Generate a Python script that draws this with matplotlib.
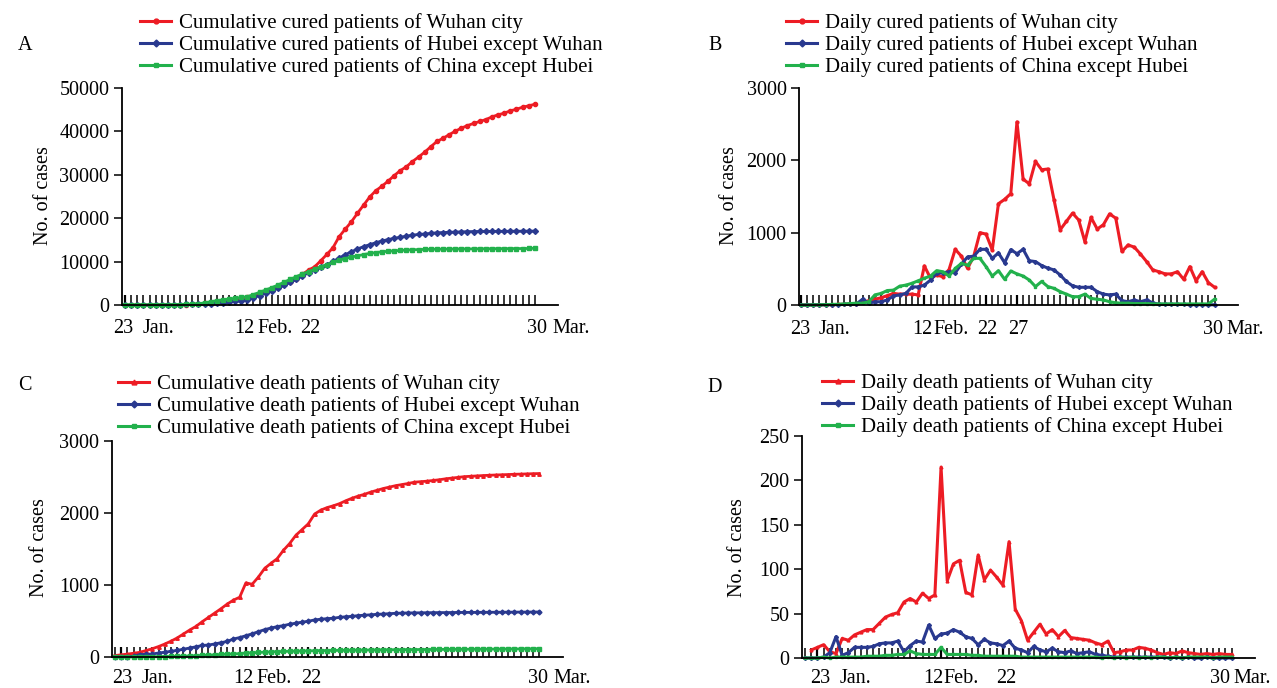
import numpy as np
import matplotlib
matplotlib.use("Agg")
import matplotlib.pyplot as plt
from matplotlib.lines import Line2D

plt.rcParams['font.family'] = ['Liberation Serif', 'DejaVu Serif']

W, H = 1277, 688
RED = '#ed1c24'
BLUE = '#29398f'
GREEN = '#22b14c'

# ---------------- data (day 0 = 23 Jan 2020) ----------------
# Panel A: cumulative cured, days 0..67
cum_cured_wuhan = [0, 1, 3, 5, 10, 15, 23, 33, 48, 68,
                   108, 168, 248, 348, 478, 638, 788, 938, 1088, 1228,
                   1768, 2138, 2553, 2943, 3433, 4203, 4878, 5383, 6058, 7058,
                   8038, 8798, 10198, 11658, 13198, 15728, 17468, 19143, 21128, 22998,
                   24878, 26333, 27373, 28528, 29798, 30973, 31848, 33058, 34108, 35218,
                   36478, 37678, 38418, 39248, 40048, 40753, 41353, 41838, 42298, 42728,
                   43350, 43830, 44200, 44750, 45100, 45580, 45900, 46250]
cum_cured_hubei = [0, 0, 0, 5, 10, 15, 20, 30, 40, 55,
                   130, 160, 200, 250, 320, 440, 560, 700, 850, 1000,
                   1150, 1650, 2180, 2720, 3270, 3840, 4500, 5200, 5900, 6680,
                   7450, 8050, 8650, 9250, 10050, 10800, 11600, 12250, 12900, 13450,
                   13900, 14350, 14750, 15080, 15350, 15600, 15850, 16100, 16250, 16370,
                   16500, 16640, 16700, 16750, 16810, 16850, 16900, 16930, 16940, 16950,
                   16960, 16970, 16980, 16990, 17000, 17010, 17020, 17030]
cum_cured_china = [0, 0, 5, 10, 15, 25, 35, 50, 70, 95,
                   130, 180, 280, 500, 750, 1000, 1180, 1370, 1560, 1740,
                   1920, 2400, 2930, 3460, 4000, 4600, 5250, 5900, 6530, 7150,
                   7680, 8250, 8800, 9300, 9850, 10300, 10700, 11050, 11320, 11620,
                   11880, 12080, 12250, 12380, 12480, 12570, 12660, 12720, 12770, 12810,
                   12840, 12860, 12875, 12890, 12900, 12910, 12920, 12930, 12940, 12950,
                   12960, 12970, 12980, 12990, 13000, 13010, 13020, 13080]

# Panel B: daily cured, days 0..67
day_cured_wuhan = [0, 1, 2, 2, 5, 5, 8, 10, 15, 20,
                   40, 60, 80, 100, 130, 160, 150, 150, 150, 140,
                   540, 370, 415, 390, 490, 770, 675, 505, 675, 1000,
                   980, 760, 1400, 1460, 1540, 2530, 1740, 1675, 1985, 1870,
                   1880, 1455, 1040, 1155, 1270, 1175, 875, 1210, 1050, 1110,
                   1260, 1200, 740, 830, 800, 705, 600, 485, 460, 430,
                   430, 460, 355, 530, 335, 460, 310, 245]
day_cured_hubei = [0, 0, 2, 2, 3, 5, 5, 8, 10, 15,
                   80, 25, 45, 45, 70, 125, 140, 160, 250, 250,
                   275, 345, 440, 445, 460, 445, 565, 665, 675, 770,
                   770, 645, 720, 585, 765, 710, 770, 612, 600, 545,
                   510, 485, 415, 325, 265, 245, 245, 245, 185, 150,
                   140, 150, 60, 45, 70, 45, 70, 30, 10, 10,
                   10, 8, 8, 5, 5, 5, 3, 3]
day_cured_china = [0, 0, 2, 3, 5, 8, 10, 15, 20, 25,
                   25, 45, 140, 160, 200, 205, 260, 275, 300, 335,
                   370, 400, 475, 460, 400, 505, 575, 550, 645, 645,
                   530, 400, 475, 355, 470, 430, 400, 345, 255, 325,
                   255, 230, 185, 150, 115, 115, 150, 90, 80, 70,
                   45, 30, 25, 25, 20, 20, 20, 15, 15, 15,
                   15, 15, 15, 15, 15, 15, 15, 80]

# Panel C: cumulative deaths, days -1..67
cum_death_wuhan = [20,
                   30, 40, 52, 65, 90, 115, 145, 180, 220, 265,
                   320, 375, 425, 490, 550, 610, 670, 735, 790, 830,
                   1030, 1010, 1110, 1230, 1300, 1365, 1480, 1575, 1690, 1770,
                   1850, 1985, 2040, 2075, 2100, 2130, 2170, 2205, 2235, 2260,
                   2290, 2315, 2340, 2360, 2380, 2395, 2410, 2428, 2435, 2442,
                   2452, 2462, 2475, 2485, 2495, 2505, 2510, 2515, 2520, 2524,
                   2528, 2531, 2534, 2538, 2540, 2543, 2546, 2548]
cum_death_hubei = [2,
                   3, 4, 10, 34, 37, 43, 55, 67, 79, 92,
                   108, 125, 142, 160, 167, 181, 199, 216, 250, 270,
                   296, 322, 352, 380, 402, 422, 436, 455, 470, 484,
                   497, 515, 525, 533, 539, 551, 559, 565, 575, 581,
                   586, 593, 597, 602, 607, 610, 612, 613, 614, 615,
                   616, 617, 617, 618, 619, 619, 620, 620, 621, 621,
                   622, 622, 623, 623, 624, 624, 625, 625]
cum_death_china = [0,
                   0, 1, 1, 2, 3, 4, 5, 6, 8, 10,
                   12, 15, 18, 22, 26, 30, 35, 39, 43, 47,
                   55, 59, 63, 67, 71, 74, 77, 79, 81, 83,
                   85, 87, 89, 90, 91, 92, 93, 94, 95, 96,
                   97, 98, 99, 100, 101, 102, 103, 103, 104, 104,
                   105, 105, 106, 106, 107, 107, 108, 108, 109, 109,
                   110, 110, 111, 112, 112, 113, 114, 115]

# Panel D: daily deaths; Wuhan days -1..67, others days -2..67
day_death_wuhan = [9,
                   12, 15, 7, 5, 22, 20, 26, 29, 32, 32,
                   39, 46, 49, 51, 63, 67, 63, 73, 67, 71,
                   215, 87, 106, 110, 74, 71, 116, 88, 99, 91,
                   82, 131, 55, 42, 20, 29, 38, 27, 32, 24,
                   31, 23, 22, 21, 20, 17, 15, 19, 6, 7,
                   9, 9, 12, 11, 9, 6, 4, 6, 5, 8,
                   6, 5, 4, 5, 4, 5, 4, 4]
day_death_hubei = [0, 0,
                   0, 1, 6, 24, 3, 6, 12, 12, 12, 13,
                   16, 17, 17, 19, 7, 14, 19, 18, 37, 22,
                   27, 28, 32, 29, 24, 22, 15, 21, 17, 16,
                   14, 19, 11, 9, 6, 13, 9, 7, 11, 7,
                   6, 8, 5, 6, 7, 4, 3, 2, 1, 1,
                   1, 1, 1, 1, 1, 1, 1, 0, 1, 0,
                   1, 0, 0, 1, 0, 0, 0, 0]
day_death_china = [0, 0,
                   0, 1, 0, 1, 1, 1, 1, 1, 2, 2,
                   2, 3, 3, 4, 4, 8, 5, 4, 4, 4,
                   12, 4, 4, 4, 4, 3, 3, 2, 2, 2,
                   2, 2, 2, 1, 1, 1, 1, 1, 1, 1,
                   1, 1, 1, 1, 1, 1, 0, 1, 0, 1,
                   0, 1, 0, 1, 0, 1, 1, 0, 1, 0,
                   1, 1, 1, 1, 0, 1, 1, 1]

# x-axis date texts
date_texts_ACD = ['23', 'Jan.', '12', 'Feb.', '22', '30', 'Mar.']
date_texts_B = ['23', 'Jan.', '12', 'Feb.', '22', '27', '30', 'Mar.']

legend_A = ['Cumulative cured patients of Wuhan city',
            'Cumulative cured patients of Hubei except Wuhan',
            'Cumulative cured patients of China except Hubei']
legend_B = ['Daily cured patients of Wuhan city',
            'Daily cured patients of Hubei except Wuhan',
            'Daily cured patients of China except Hubei']
legend_C = ['Cumulative death patients of Wuhan city',
            'Cumulative death patients of Hubei except Wuhan',
            'Cumulative death patients of China except Hubei']
legend_D = ['Daily death patients of Wuhan city',
            'Daily death patients of Hubei except Wuhan',
            'Daily death patients of China except Hubei']

# ---------------- figure ----------------
fig = plt.figure(figsize=(W / 100, H / 100), dpi=100)


def fx(x):
    return x / W


def fy(y):
    return 1 - y / H


def make_ax(left, right, top, bottom):
    return fig.add_axes([fx(left), fy(bottom), fx(right) - fx(left), fy(top) - fy(bottom)])


def style_ax(ax, xmin, tick_start, ylim, yticks, red_days):
    ax.set_xlim(xmin, 70.8)
    ax.set_ylim(*ylim)
    for s in ['top', 'right']:
        ax.spines[s].set_visible(False)
    for s in ['left', 'bottom']:
        ax.spines[s].set_linewidth(1.3)
    days = list(range(tick_start, 68))
    ax.set_xticks(days)
    ax.tick_params(axis='x', direction='in', length=7, width=1.1, labelbottom=False, color='black')
    for d, t in zip(days, ax.xaxis.get_major_ticks()):
        if d in red_days:
            t.tick1line.set_color(RED)
            t.tick1line.set_markeredgewidth(1.6)
    ax.set_yticks(yticks)
    ax.tick_params(axis='y', direction='out', length=6, width=1.1, labelsize=14.5, pad=3)


def date_texts(texts, xs, aligns, ybase):
    for s, x, a in zip(texts, xs, aligns):
        fig.text(fx(x), fy(ybase), s, ha=a, va='baseline', fontsize=14.5)


def plot_series(ax, x0, ys, colors, markers, lw=2.0, ms=3.0):
    for y, c, m in zip(ys, colors, markers):
        x = np.arange(len(y)) + x0
        ax.plot(x, y, color=c, lw=lw, marker=m, ms=ms, mec=c, mfc=c, clip_on=False)


def add_legend(labels, markers, xleft, ymid):
    handles = [Line2D([], [], color=c, lw=2.2, marker=m, ms=3.5, mec=c, mfc=c)
               for c, m in zip([RED, BLUE, GREEN], markers)]
    fig.legend(handles, labels, loc='center left', bbox_to_anchor=(fx(xleft), fy(ymid)),
               bbox_transform=fig.transFigure, frameon=False, fontsize=15,
               handlelength=1.5, handletextpad=0.35, labelspacing=0.1,
               borderpad=0, borderaxespad=0, numpoints=1)


cured_markers = ['o', 'D', 's']
death_markers = ['^', 'D', 's']
al7 = ['center', 'left', 'center', 'left', 'center', 'center', 'left']
al8 = ['center', 'left', 'center', 'left', 'center', 'center', 'center', 'left']

# Panel A
axA = make_ax(122, 558, 88, 305)
style_ax(axA, -0.5, 0, (0, 50000), [0, 10000, 20000, 30000, 40000, 50000], [0, 20, 30])
plot_series(axA, 0, [cum_cured_wuhan, cum_cured_hubei, cum_cured_china],
            [RED, BLUE, GREEN], cured_markers)
date_texts(date_texts_ACD, [123, 143, 244, 257, 310, 537, 552], al7, 333)

# Panel B
axB = make_ax(799, 1238, 88, 305)
style_ax(axB, -0.3, 0, (0, 3000), [0, 1000, 2000, 3000], [0, 20, 30, 35])
plot_series(axB, 0, [day_cured_wuhan, day_cured_hubei, day_cured_china],
            [RED, BLUE, GREEN], cured_markers, lw=2.2, ms=2.0)
date_texts(date_texts_B, [800, 819, 922, 933, 987, 1018.5, 1213, 1226], al8, 334)

# Panel C
axC = make_ax(112, 563, 441, 657)
style_ax(axC, -1.45, -1, (0, 3000), [0, 1000, 2000, 3000], [0, 20, 30])
plot_series(axC, -1, [cum_death_wuhan, cum_death_hubei, cum_death_china],
            [RED, BLUE, GREEN], death_markers, ms=2.5)
date_texts(date_texts_ACD, [122, 142, 243, 256, 311, 538, 553], al7, 683)

# Panel D
axD = make_ax(802, 1255, 436, 658)
style_ax(axD, -2.5, -2, (0, 250), [0, 50, 100, 150, 200, 250], [0, 20, 30])
axD.plot(np.arange(len(day_death_wuhan)) - 1, day_death_wuhan, color=RED, lw=2.2,
         marker='^', ms=2.0, clip_on=False)
axD.plot(np.arange(len(day_death_hubei)) - 2, day_death_hubei, color=BLUE, lw=2.2,
         marker='D', ms=2.0, clip_on=False)
axD.plot(np.arange(len(day_death_china)) - 2, day_death_china, color=GREEN, lw=2.2,
         marker='s', ms=2.0, clip_on=False)
date_texts(date_texts_ACD, [820, 840, 933, 943, 1006, 1220, 1233], al7, 683)

# y labels
for (x, y) in [(43, 196), (730, 196), (40, 548), (738, 548)]:
    fig.text(fx(x), fy(y), 'No. of cases', rotation=90, ha='center', va='center', fontsize=14.5)

# panel letters
for (x, y, s) in [(25, 45, 'A'), (715, 45, 'B'), (25, 386, 'C'), (715, 388, 'D')]:
    fig.text(fx(x), fy(y), s, ha='center', va='center', fontsize=14.5)

# legends
add_legend(legend_A, cured_markers, 140, 45)
add_legend(legend_B, cured_markers, 786, 45)
add_legend(legend_C, death_markers, 118, 406)
add_legend(legend_D, death_markers, 822, 405)

fig.savefig('out.png', dpi=100)
